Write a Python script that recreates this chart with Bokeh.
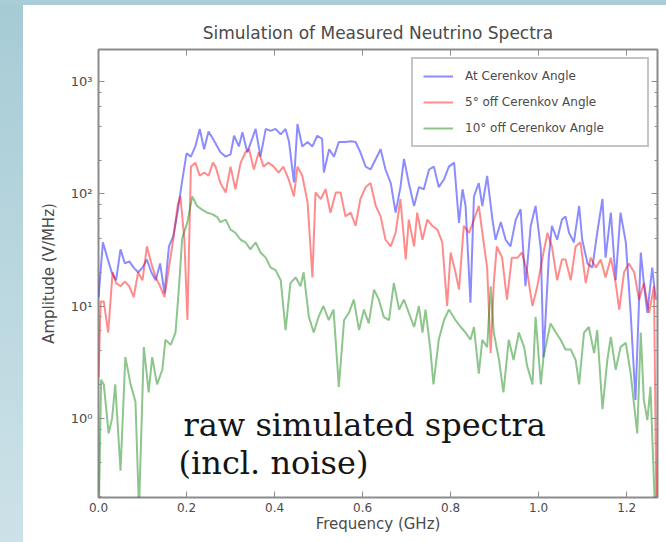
from bokeh.plotting import figure
from bokeh.models import (Range1d, LinearAxis, LogAxis, FixedTicker, PrintfTickFormatter,
                          Legend, LegendItem, Label, LogTicker)
from bokeh.embed import file_html
from bokeh.resources import INLINE

# ---------------- data ----------------
blue_freq = [0.0, 0.01, 0.02, 0.03, 0.04, 0.05, 0.06, 0.07, 0.08, 0.09, 0.10, 0.11, 0.12, 0.13, 0.14, 0.15,
             0.16, 0.17, 0.18, 0.19, 0.20, 0.21, 0.22, 0.23, 0.24, 0.25, 0.26,
             0.277, 0.289, 0.300, 0.308, 0.319, 0.327, 0.338, 0.349, 0.357, 0.368, 0.380, 0.391, 0.402, 0.414,
             0.425, 0.433, 0.444, 0.452, 0.463, 0.475, 0.486, 0.497, 0.508, 0.512, 0.524, 0.535, 0.546,
             0.561, 0.573, 0.584, 0.595, 0.607, 0.618, 0.630, 0.641, 0.652, 0.664, 0.675, 0.686, 0.694, 0.705,
             0.717, 0.728, 0.739, 0.751, 0.762, 0.773, 0.785, 0.796, 0.808, 0.819,
             0.827, 0.834, 0.845, 0.853, 0.864, 0.872, 0.883, 0.895, 0.902, 0.914, 0.925, 0.936, 0.948, 0.959,
             0.970, 0.982, 0.993, 1.005, 1.011, 1.023, 1.030, 1.042, 1.053,
             1.061, 1.069, 1.080, 1.092, 1.099, 1.111, 1.122, 1.133, 1.145, 1.152, 1.164, 1.175, 1.186, 1.198,
             1.209, 1.220, 1.232, 1.239, 1.247, 1.258, 1.266]
blue_amp = [12, 37, 27, 20, 17, 32, 24, 25, 22, 20, 22, 26, 20, 17, 24, 13,
            34, 42, 70, 130, 230, 215, 265, 380, 250, 360, 310,
            235, 215, 225, 330, 265, 355, 235, 310, 380, 215, 380, 365, 380, 340,
            380, 290, 127, 420, 265, 290, 265, 330, 310, 155, 250, 215, 290,
            290, 295, 290, 235, 175, 165, 205, 250, 165, 125, 68, 115, 205, 125,
            78, 115, 110, 165, 175, 115, 135, 175, 190, 55,
            110, 78, 10.7, 95, 125, 78, 145, 59, 39, 56, 39, 34, 59, 73,
            15, 52, 78, 32, 3.5, 27, 52, 39, 59,
            63, 45, 37, 78, 39, 24, 22, 45, 90, 27, 68, 17, 68, 37,
            8.7, 1.45, 30, 16, 8.7, 22, 11.4]

red_freq = [0.0, 0.005, 0.012, 0.022, 0.032, 0.04, 0.05, 0.06, 0.07, 0.08, 0.09, 0.10, 0.11, 0.12, 0.13,
            0.14, 0.15, 0.16, 0.17, 0.18, 0.186, 0.195, 0.202, 0.21, 0.22, 0.23, 0.24, 0.25, 0.26,
            0.266, 0.277, 0.289, 0.300, 0.311, 0.323, 0.334, 0.342, 0.353, 0.364, 0.375, 0.386, 0.398, 0.409,
            0.420, 0.432, 0.444, 0.452, 0.463, 0.475, 0.486, 0.493, 0.505, 0.516, 0.527, 0.539,
            0.550, 0.561, 0.573, 0.584, 0.595, 0.607, 0.618, 0.630, 0.641, 0.652, 0.664, 0.675, 0.686, 0.698,
            0.705, 0.717, 0.724, 0.736, 0.747, 0.758, 0.770, 0.781, 0.792, 0.800, 0.811, 0.819,
            0.830, 0.842, 0.853, 0.864, 0.875, 0.883, 0.891, 0.898, 0.905, 0.917, 0.928, 0.939, 0.952, 0.962,
            0.974, 0.986, 0.997, 1.008, 1.020, 1.030, 1.042, 1.053,
            1.061, 1.073, 1.084, 1.095, 1.107, 1.118, 1.130, 1.141, 1.152, 1.164, 1.175, 1.183, 1.194, 1.205,
            1.217, 1.228, 1.239, 1.251, 1.262, 1.268]
red_amp = [2.3, 11, 11, 5.8, 20, 16, 15, 16.5, 15, 12, 20, 17, 34, 24, 18,
           15, 12, 22, 40, 80, 95, 40, 7.5, 175, 190, 145, 155, 145, 190,
           175, 125, 103, 175, 110, 190, 235, 250, 165, 235, 175, 190, 175, 155,
           175, 135, 95, 175, 145, 84, 18, 103, 90, 110, 68, 103,
           103, 63, 68, 52, 90, 115, 125, 78, 63, 39, 34, 45, 90, 26,
           59, 34, 68, 39, 59, 52, 48, 37, 10, 30, 20, 14,
           52, 45, 59, 78, 37, 22, 3.8, 16, 34, 27, 11.4, 27, 27, 30,
           20, 10, 15, 26, 45, 34, 17, 26,
           26, 17, 34, 37, 16, 27, 22, 26, 18, 27, 16, 9.3, 20, 24,
           20, 11.4, 16, 8.7, 15, 0.1]

green_freq = [0.0, 0.006, 0.012, 0.023, 0.031, 0.038, 0.050, 0.061, 0.073, 0.084, 0.092, 0.103, 0.114,
              0.122, 0.133, 0.145, 0.152, 0.164, 0.175, 0.183, 0.190, 0.202, 0.213, 0.224, 0.236, 0.247, 0.258,
              0.270, 0.277, 0.289, 0.300, 0.311, 0.323, 0.334, 0.345, 0.357, 0.368, 0.380, 0.391, 0.402, 0.414,
              0.425, 0.436, 0.448, 0.459, 0.466, 0.478, 0.489, 0.500, 0.511, 0.523, 0.534, 0.546,
              0.558, 0.569, 0.580, 0.592, 0.603, 0.614, 0.626, 0.637, 0.648, 0.660, 0.671, 0.683, 0.694, 0.705,
              0.717, 0.728, 0.736, 0.743, 0.754, 0.761, 0.773, 0.785, 0.796, 0.811, 0.823,
              0.834, 0.845, 0.853, 0.864, 0.872, 0.883, 0.891, 0.898, 0.910, 0.920, 0.932, 0.943, 0.955, 0.967,
              0.974, 0.986, 0.993, 1.005, 1.011, 1.027, 1.039, 1.050, 1.061,
              1.073, 1.084, 1.092, 1.103, 1.114, 1.126, 1.133, 1.145, 1.156, 1.164, 1.175, 1.186, 1.198,
              1.209, 1.224, 1.232, 1.239, 1.247, 1.254, 1.266]
green_amp = [0.1, 2.2, 2.0, 0.73, 1.0, 2.0, 0.34, 3.5, 2.0, 1.4, 0.15, 4.3, 1.7,
             3.5, 2.0, 2.7, 5, 4.5, 5.8, 15, 40, 56, 95, 78, 72, 68, 66,
             62, 56, 59, 48, 45, 39, 37, 32, 37, 30, 27, 22, 21, 17,
             6.1, 16, 18, 15, 20, 8, 5.8, 8, 10, 7.5, 9.3, 1.9,
             7.5, 8.7, 11.4, 6.1, 9.3, 7, 14, 11.4, 8, 7.5, 16, 9.3, 11.4, 8.7,
             6.5, 10, 5.8, 9.3, 4.1, 2.0, 5, 7.5, 9.3, 7.5, 6.5,
             5.8, 5, 6.5, 2.5, 5, 4.3, 15, 5.8, 3.3, 1.7, 5, 3.3, 5.8, 4.3,
             2.9, 2.0, 8, 2.0, 3.5, 7, 5.8, 5, 4.1,
             4.1, 3.3, 2.0, 5.8, 6.5, 3.8, 6.1, 1.2, 3.3, 5.3, 2.7, 4.3, 4.7,
             2.5, 0.73, 5.8, 1.45, 0.96, 1.9, 0.1]

series_labels = ["At Cerenkov Angle", "5\u00b0 off Cerenkov Angle", "10\u00b0 off Cerenkov Angle"]
x_ticks = [0.0, 0.2, 0.4, 0.6, 0.8, 1.0, 1.2]
y_ticks = [1, 10, 100, 1000]
y_tick_labels = ["10\u2070", "10\u00b9", "10\u00b2", "10\u00b3"]
title_text = "Simulation of Measured Neutrino Spectra"
x_label = "Frequency (GHz)"
y_label = "Amplitude (V/MHz)"
note_lines = ["raw simulated spectra", "(incl. noise)"]

# ---------------- figure ----------------
FONT = "DejaVu Sans"
TXT = "#4a4a4a"
FRAME = "#8c8c8c"

p = figure(width=666, height=542, output_backend="svg", toolbar_location=None,
           x_range=Range1d(0, 1.27), y_range=Range1d(0.196, 1940), y_axis_type="log",
           min_border_left=98, min_border_right=9, min_border_top=49, min_border_bottom=45,
           title=title_text)
p.styles = {
    "background": "linear-gradient(to bottom, #a9ced7 0px, #a9ced7 5px, transparent 5px), "
                  "linear-gradient(to right, transparent 0px, transparent 23px, #ffffff 23px), "
                  "linear-gradient(to bottom, #a6cbd5, #cde2e8)"
}
p.border_fill_alpha = 0
p.background_fill_color = "white"
p.outline_line_color = FRAME
p.outline_line_width = 2
p.grid.visible = False

p.title.align = "center"
p.title.text_font = FONT
p.title.text_font_size = "17px"
p.title.text_font_style = "normal"
p.title.text_color = TXT
p.title.standoff = 14

def style_axis(ax):
    ax.axis_line_color = None
    ax.major_tick_in = 6
    ax.major_tick_out = 0
    ax.minor_tick_in = 3
    ax.minor_tick_out = 0
    ax.major_tick_line_color = FRAME
    ax.minor_tick_line_color = FRAME
    ax.major_label_text_font = FONT
    ax.major_label_text_color = TXT
    ax.axis_label_text_font = FONT
    ax.axis_label_text_color = TXT
    ax.axis_label_text_font_style = "normal"

xa = p.xaxis[0]
style_axis(xa)
xa.ticker = FixedTicker(ticks=x_ticks)
xa.formatter = PrintfTickFormatter(format="%.1f")
xa.major_label_text_font_size = "12px"
xa.major_label_standoff = 5
xa.axis_label = x_label
xa.axis_label_text_font_size = "15px"
xa.axis_label_standoff = 0

ya = p.yaxis[0]
style_axis(ya)
ya.ticker = LogTicker(desired_num_ticks=4)
ya.major_label_overrides = {t: s for t, s in zip(y_ticks, y_tick_labels)}
ya.major_label_text_font_size = "13px"
ya.major_label_standoff = 6
ya.axis_label = y_label
ya.axis_label_text_font_size = "15px"
ya.axis_label_standoff = 10

# mirrored tick marks on top and right (no labels)
top = LinearAxis(ticker=FixedTicker(ticks=x_ticks))
style_axis(top)
top.major_label_text_alpha = 0
top.major_label_text_font_size = "1px"
top.major_label_standoff = 0
p.add_layout(top, "above")
right = LogAxis(ticker=LogTicker(desired_num_ticks=4))
style_axis(right)
right.major_label_text_alpha = 0
right.major_label_text_font_size = "1px"
right.major_label_standoff = 0
p.add_layout(right, "right")

# ---------------- lines ----------------
r_blue = p.line(blue_freq, blue_amp, line_color="#0000ff", line_alpha=0.45, line_width=2)
r_red = p.line(red_freq, red_amp, line_color="#ff0000", line_alpha=0.45, line_width=2)
r_green = p.line(green_freq, green_amp, line_color="#008000", line_alpha=0.45, line_width=2)

legend = Legend(items=[LegendItem(label=series_labels[0], renderers=[r_blue]),
                       LegendItem(label=series_labels[1], renderers=[r_red]),
                       LegendItem(label=series_labels[2], renderers=[r_green])],
                location="top_right", margin=8, padding=10, spacing=12,
                glyph_width=30, glyph_height=14, label_height=14, label_width=172,
                label_standoff=12, label_text_font=FONT, label_text_font_size="12px",
                label_text_color=TXT, border_line_color=FRAME, border_line_width=2,
                background_fill_color="white", background_fill_alpha=1)
p.add_layout(legend)

p.add_layout(Label(x=0.193, y=0.86, text=note_lines[0], text_font="DejaVu Serif",
                   text_font_size="32px", text_color="#151515", text_baseline="middle"))
p.add_layout(Label(x=0.182, y=0.40, text=note_lines[1], text_font="DejaVu Serif",
                   text_font_size="32px", text_color="#151515", text_baseline="middle"))

open("out.html", "w").write(file_html(p, INLINE))
